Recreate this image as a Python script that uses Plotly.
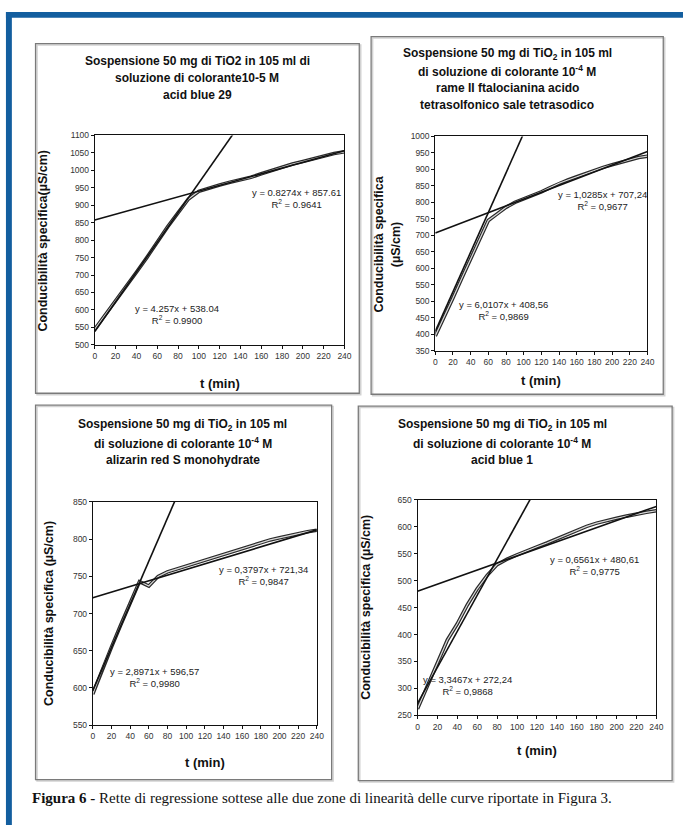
import plotly.graph_objects as go

W, H = 690, 830

# ---------------- data ----------------
t_min = [0, 10, 20, 30, 40, 50, 60, 70, 80, 90, 100, 110, 120, 130, 140, 150,
         160, 170, 180, 190, 200, 210, 220, 230, 240]

cond_p1 = [545, 585, 625, 668, 708, 750, 795, 838, 878, 918, 940, 950, 958, 966,
           972, 980, 990, 1000, 1010, 1018, 1025, 1033, 1040, 1048, 1053]
cond_p2 = [395, 450, 510, 570, 630, 690, 745, 765, 785, 800, 810, 822, 832, 845,
           858, 868, 878, 888, 897, 906, 914, 922, 930, 936, 940]
cond_p3 = [592, 625, 655, 685, 713, 743, 737, 750, 756, 760, 764, 768, 771, 775,
           779, 783, 787, 791, 795, 799, 802, 805, 808, 810, 812]
cond_p4 = [262, 305, 345, 390, 420, 455, 485, 510, 530, 540, 548, 556, 563, 570,
           578, 586, 594, 601, 607, 612, 616, 620, 624, 627, 630]

# regression lines (slope, intercept) : steep zone, flat zone
fit_p1 = [(4.2571, 538.04), (0.8274, 857.61)]
fit_p2 = [(6.0107, 408.56), (1.0285, 707.24)]
fit_p3 = [(2.8971, 596.57), (0.3797, 721.34)]
fit_p4 = [(3.3467, 272.24), (0.6561, 480.61)]

eq_p1 = ["y = 4.257x + 538.04<br>R<sup>2</sup> = 0.9900", "y = 0.8274x + 857.61<br>R<sup>2</sup> = 0.9641"]
eq_p2 = ["y = 6,0107x + 408,56<br>R<sup>2</sup> = 0,9869", "y = 1,0285x + 707,24<br>R<sup>2</sup> = 0,9677"]
eq_p3 = ["y = 2,8971x + 596,57<br>R<sup>2</sup> = 0,9980", "y = 0,3797x + 721,34<br>R<sup>2</sup> = 0,9847"]
eq_p4 = ["y = 3,3467x + 272,24<br>R<sup>2</sup> = 0,9868", "y = 0,6561x + 480,61<br>R<sup>2</sup> = 0,9775"]

titles = [
    ["Sospensione 50 mg di TiO2 in 105 ml di", "soluzione di colorante10-5 M", "acid blue 29"],
    ["Sospensione 50 mg di TiO<sub>2</sub> in 105 ml", "di soluzione di colorante 10<sup>-4</sup> M",
     "rame II ftalocianina acido", "tetrasolfonico sale tetrasodico"],
    ["Sospensione 50 mg di TiO<sub>2</sub> in 105 ml", "di soluzione di colorante 10<sup>-4</sup> M",
     "alizarin red S monohydrate"],
    ["Sospensione 50 mg di TiO<sub>2</sub> in 105 ml", "di soluzione di colorante 10<sup>-4</sup> M",
     "acid blue 1"],
]
ytitles = [
    "Conducibilità specifica(µS/cm)",
    "Conducibilità specifica<br>(µS/cm)",
    "Conducibilità specifica (µS/cm)",
    "Conducibilità specifica (µS/cm)",
]
xtitle = "t (min)"
y_ranges = [(500, 1100), (350, 1000), (550, 850), (250, 650)]
caption_bold = "Figura 6 -"
caption_text = " Rette di regressione sottese alle due zone di linearità delle curve riportate in Figura 3."

# ---------------- layout geometry (pixels) ----------------
def px(x):
    return x / W

def py(y):
    return 1 - y / H

panels = [  # panel frame l, t, r, b
    (34, 39, 362, 393),
    (374, 32, 670, 394),
    (34, 405, 334, 784),
    (361, 406, 679, 785),
]
plots = [  # plot area l, t, r, b
    (94, 132, 347, 344),
    (439, 133, 654, 350),
    (92, 503, 319, 729),
    (421, 501, 663, 719),
]
title_x = [198, 512, 183, 507]
title_lines_y = [[57, 74, 91], [50, 67, 84, 101], [425, 443, 461], [425, 443, 461]]
ytitle_x = [42, 390, 47, 368]
xtitle_y = [383, 380, 767, 755]
eq_pos = [
    [(177, 313), (298, 196)],
    [(508, 309), (608, 198)],
    [(155, 681), (265, 577)],
    [(472, 689), (600, 567)],
]

datas = [cond_p1, cond_p2, cond_p3, cond_p4]
fits = [fit_p1, fit_p2, fit_p3, fit_p4]
eqs = [eq_p1, eq_p2, eq_p3, eq_p4]

FONT = "Arial, Liberation Sans, sans-serif"

fig = go.Figure()
shapes = []
annotations = []

for i in range(4):
    xa = "x" if i == 0 else f"x{i+1}"
    ya = "y" if i == 0 else f"y{i+1}"
    # data curve drawn as a hollow (double) line
    fig.add_trace(go.Scatter(x=t_min, y=datas[i], mode="lines", xaxis=xa, yaxis=ya,
                             line=dict(color="#2a2a2a", width=3.6), showlegend=False))
    fig.add_trace(go.Scatter(x=t_min, y=datas[i], mode="lines", xaxis=xa, yaxis=ya,
                             line=dict(color="#d8d8d8", width=1.2), showlegend=False))
    # regression lines
    for (m, q) in fits[i]:
        xs = [0, 240]
        ys = [q + m * x for x in xs]
        fig.add_trace(go.Scatter(x=xs, y=ys, mode="lines", xaxis=xa, yaxis=ya,
                                 line=dict(color="#111111", width=1.6), showlegend=False))
    l, t, r, b = plots[i]
    y0, y1 = y_ranges[i]
    axis_common = dict(showgrid=False, zeroline=False, showline=True, linecolor="#111111",
                       linewidth=1, mirror=True, ticks="outside", ticklen=3,
                       tickcolor="#111111", tickfont=dict(family=FONT, size=8.5, color="#333333"))
    fig.layout[("xaxis" if i == 0 else f"xaxis{i+1}")] = dict(
        domain=[px(l), px(r)], range=[0, 240], dtick=20, tick0=0,
        anchor=ya, **axis_common)
    fig.layout[("yaxis" if i == 0 else f"yaxis{i+1}")] = dict(
        domain=[py(b), py(t)], range=[y0, y1], dtick=50, tick0=y0,
        anchor=xa, **axis_common)

    # panel frame
    pl, pt, pr, pb = panels[i]
    shapes.append(dict(type="rect", xref="paper", yref="paper",
                       x0=px(pl + 1.5), x1=px(pr + 1.5), y0=py(pb + 1.5), y1=py(pt + 1.5),
                       line=dict(color="#d2d2d2", width=1.5), fillcolor="rgba(0,0,0,0)",
                       layer="below"))
    shapes.append(dict(type="rect", xref="paper", yref="paper",
                       x0=px(pl), x1=px(pr), y0=py(pb), y1=py(pt),
                       line=dict(color="#7a7a7a", width=1.3), fillcolor="rgba(0,0,0,0)",
                       layer="below"))
    # title, one annotation per line
    for line_text, ly in zip(titles[i], title_lines_y[i]):
        annotations.append(dict(text="<b>" + line_text + "</b>", x=px(title_x[i]), y=py(ly),
                                xref="paper", yref="paper", xanchor="center", yanchor="middle",
                                showarrow=False, align="center",
                                font=dict(family=FONT, size=12, color="#111111")))
    # y title
    annotations.append(dict(text="<b>" + ytitles[i] + "</b>", x=px(ytitle_x[i]),
                            y=py((t + b) / 2), xref="paper", yref="paper",
                            xanchor="center", yanchor="middle", textangle=-90,
                            showarrow=False, align="center",
                            font=dict(family=FONT, size=12.5, color="#111111")))
    # x title
    annotations.append(dict(text="<b>" + xtitle + "</b>", x=px((l + r) / 2), y=py(xtitle_y[i]),
                            xref="paper", yref="paper", xanchor="center", yanchor="middle",
                            showarrow=False, font=dict(family=FONT, size=13, color="#111111")))
    # equations
    for k in range(2):
        ex, ey = eq_pos[i][k]
        annotations.append(dict(text=eqs[i][k], x=px(ex), y=py(ey), xref="paper", yref="paper",
                                xanchor="center", yanchor="middle", showarrow=False,
                                align="center",
                                font=dict(family=FONT, size=9.5, color="#222222")))

# blue border (left and top)
shapes.append(dict(type="rect", xref="paper", yref="paper", x0=px(4), x1=px(10),
                   y0=py(H), y1=py(7), line=dict(width=0), fillcolor="#135e9f"))
shapes.append(dict(type="rect", xref="paper", yref="paper", x0=px(4), x1=px(W),
                   y0=py(13), y1=py(7), line=dict(width=0), fillcolor="#135e9f"))

# caption
annotations.append(dict(text="<b>" + caption_bold + "</b>" + caption_text,
                        x=px(28), y=py(803), xref="paper", yref="paper",
                        xanchor="left", yanchor="middle", showarrow=False,
                        font=dict(family="Liberation Serif, Times New Roman, serif",
                                  size=15, color="#111111")))

fig.update_layout(width=W, height=H, margin=dict(l=0, r=0, t=0, b=0),
                  paper_bgcolor="white", plot_bgcolor="white",
                  shapes=shapes, annotations=annotations, showlegend=False)

fig.write_html("out.html", config={"displayModeBar": False},
               post_script="document.body.style.margin='0';document.body.style.overflow='hidden';")
